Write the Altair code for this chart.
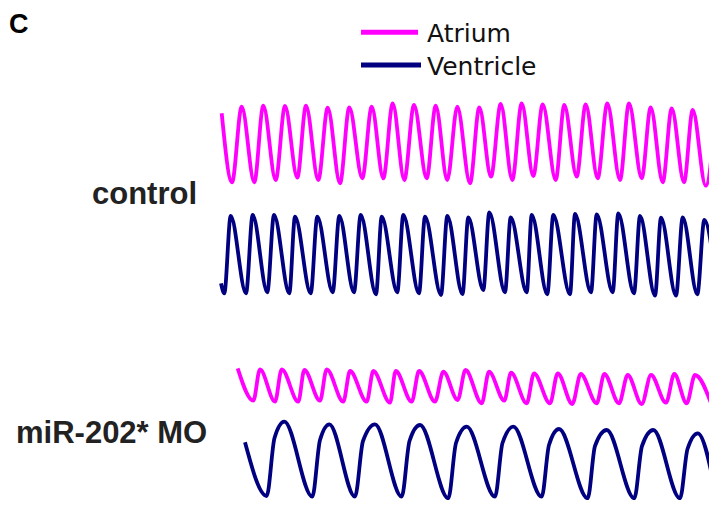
import altair as alt
import pandas as pd

# ---- traces (time axis in picture units, signal in picture units, y grows downward)
ctrl_atrium_t = [221.7, 232, 241.7, 254.3, 263.3, 275.7, 285, 297.3, 306, 318.3, 327.7, 340, 349.3, 362.3,
                 371.7, 383.3, 392.7, 404.3, 414, 426.7, 435.7, 447.3, 457.3, 470, 479.3, 491, 500.7, 512.3,
                 521.7, 533.3, 542.7, 555.7, 564.3, 576.7, 585.7, 597.7, 607.3, 620, 629, 641.7, 650.7, 662.7,
                 671.7, 684, 692.7, 705.7, 716]
ctrl_atrium_v = [113.3, 182.3, 106.7, 182.3, 105.7, 180, 106, 177.7, 105.7, 180, 107.7, 183.3, 107.3, 178.3,
                 106.7, 178.3, 103.3, 180, 105, 178.3, 105.7, 180, 106.7, 183.3, 107.3, 176.7, 104, 180,
                 103.3, 176, 104.3, 180, 105, 176.7, 104.3, 178.3, 103.3, 180, 103.3, 178.3, 107.3, 182.3,
                 108.3, 182.3, 110, 185.7, 107.7]

ctrl_ventricle_t = [221, 224.3, 230.7, 246, 252.7, 267.3, 274, 289.3, 295, 310.7, 317.3, 332.7, 339.3, 354,
                    360.7, 376, 381.7, 397.3, 403.3, 419, 425, 441, 447.3, 462.5, 468.3, 483.3, 489.3, 505,
                    510.7, 526.7, 531.7, 547.3, 553.3, 570, 575, 591, 596.7, 612.7, 618.3, 634, 640, 655,
                    661, 676, 682.7, 697.3, 704.3, 716]
ctrl_ventricle_v = [283.3, 293.3, 216, 293.3, 215, 292.3, 215, 293.3, 216.7, 293.3, 216.7, 292.3, 216, 292.3,
                    215, 294.3, 216.7, 292.3, 215, 293.3, 216.7, 295, 216, 294, 217.5, 290, 212.3, 292.3,
                    217.3, 292.3, 215, 294.3, 215, 294.3, 214, 292.3, 214.3, 292.3, 213.3, 293.3, 216, 295.7,
                    217.7, 295.7, 217.3, 294.3, 220, 281]

mo_atrium_t = [237.7, 253.3, 260, 275, 281.7, 298.3, 304.3, 320, 326.7, 343.3, 350, 366.7, 373.3, 390,
               395.7, 411.7, 419, 435, 443.3, 457.7, 465.5, 481.7, 489, 504.3, 511, 526.7, 534, 550,
               557.7, 572.3, 580.7, 596.7, 604.3, 619, 627.7, 641.7, 651, 666, 674.3, 686.7, 695, 711.7]
mo_atrium_v = [368.3, 400.7, 369.3, 401.7, 369.3, 401.7, 370, 400.7, 369.3, 401.7, 371, 401.7, 371, 402.7,
               371, 401.7, 371, 401.7, 371.7, 400, 370, 403.3, 371.7, 400.7, 372.7, 403.3, 373.3, 403.3,
               373.3, 404, 374, 403.3, 374, 403.3, 375, 404, 375, 402.7, 374, 403.3, 375, 405]

mo_ventricle_t = [245, 266.7, 274.5, 284.3, 312.3, 320, 329.3, 355, 363, 375, 401.7, 409.5, 420, 448.3,
                  456, 466.7, 495, 502.5, 513.3, 541.7, 549, 559, 587.7, 595, 606.7, 634.3, 642, 653.3,
                  680, 687.5, 697.7, 715.7]
mo_ventricle_v = [442.3, 496, 438, 421.7, 496.7, 440, 424.3, 496.7, 441, 424.3, 496.7, 441, 425, 498.3,
                  443, 426.7, 496.7, 443, 426.7, 496.7, 445, 429, 498.3, 446, 430, 498.3, 446, 430,
                  498.3, 449, 433.3, 493.3]

chambers = ["Atrium", "Ventricle"]
chamber_colors = ["#ff00ff", "#000080"]
groups = ["control", "miR-202* MO"]

frames = []
for grp, ch, ts, vs in [
    ("control", "Atrium", ctrl_atrium_t, ctrl_atrium_v),
    ("control", "Ventricle", ctrl_ventricle_t, ctrl_ventricle_v),
    ("miR-202* MO", "Atrium", mo_atrium_t, mo_atrium_v),
    ("miR-202* MO", "Ventricle", mo_ventricle_t, mo_ventricle_v),
]:
    frames.append(pd.DataFrame({"t": ts, "v": vs, "chamber": ch, "trace": grp + " " + ch}))
df = pd.concat(frames, ignore_index=True)

W, H = 701, 492
x_scale = alt.Scale(domain=[8, 8 + W], nice=False, zero=False)
y_scale = alt.Scale(domain=[8, 8 + H], reverse=True, nice=False, zero=False)
color_scale = alt.Scale(domain=chambers, range=chamber_colors)

traces = alt.Chart(df).mark_line(strokeWidth=3.8, interpolate="monotone", clip=True).encode(
    x=alt.X("t:Q", scale=x_scale, axis=None),
    y=alt.Y("v:Q", scale=y_scale, axis=None),
    color=alt.Color("chamber:N", scale=color_scale, legend=None),
    detail="trace:N",
)

layers = [traces]

# manual legend (line swatch + label)
legend_rows = [(24.3, 410, 33.7), (57, 413, 67)]
for ch, col, (ry, rx2, ty) in zip(chambers, chamber_colors, legend_rows):
    d = pd.DataFrame({"label": [ch]})
    layers.append(alt.Chart(d).mark_rule(color=col, strokeWidth=5).encode(
        x=alt.value(353), x2=alt.value(rx2), y=alt.value(ry)))
    layers.append(alt.Chart(d).mark_text(align="left", baseline="alphabetic", font="DejaVu Sans",
                                         fontSize=25, color="#111111").encode(
        x=alt.value(419), y=alt.value(ty), text="label:N"))

# group labels
for g, (gx, gy) in zip(groups, [(84, 196.3), (8, 435.3)]):
    layers.append(alt.Chart(pd.DataFrame({"label": [g]})).mark_text(
        align="left", baseline="alphabetic", font="Liberation Sans", fontSize=31,
        fontWeight="bold", color="#222222").encode(
        x=alt.value(gx), y=alt.value(gy), text="label:N"))

# panel letter
layers.append(alt.Chart(pd.DataFrame({"label": ["C"]})).mark_text(
    align="left", baseline="alphabetic", font="Liberation Sans", fontSize=27,
    fontWeight="bold", color="#000000").encode(
    x=alt.value(1), y=alt.value(24.7), text="label:N"))

chart = alt.layer(*layers).properties(
    width=W, height=H, padding=0,
).configure_view(stroke=None)

chart.save("out.html", embed_options={"renderer": "svg", "actions": False})
